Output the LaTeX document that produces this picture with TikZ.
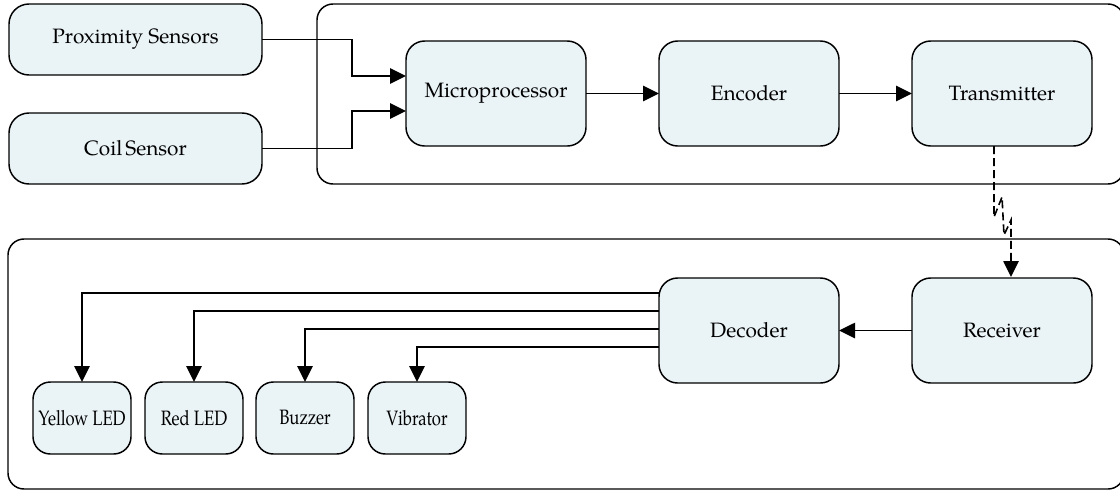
\documentclass[tikz,border=0pt]{standalone}
\usepackage{fontspec}
\usepackage{graphicx}
\setmainfont{TeX Gyre Pagella}
\usetikzlibrary{arrows.meta,calc}
\definecolor{boxfill}{HTML}{EAF3F6}
% condensed label for the narrow output boxes
\newcommand{\narrowtext}[1]{\scalebox{0.8}[1]{#1}}
\begin{document}
\begin{tikzpicture}[x=0.75pt,y=-0.75pt,
  every node/.style={font=\fontsize{15.6}{18}\selectfont},
  blk/.style={draw,line width=1.1pt,fill=boxfill,rounded corners=14pt,
    inner sep=0pt,outer sep=0pt},
  wide/.style={blk,minimum width=189.75pt,minimum height=53.25pt,rounded corners=15pt},
  mid/.style={blk,minimum width=135pt,minimum height=78.75pt},
  small/.style={blk,minimum width=73.5pt,minimum height=54pt,rounded corners=13pt},
  frame/.style={draw,line width=1.1pt,rounded corners=12pt},
  link/.style={line width=1.2pt,-{Triangle[length=12pt,width=11.5pt]}}]
\useasboundingbox (0,0) rectangle (1120,490);

% the two enclosing frames
\draw[frame] (317,4) rectangle (1124,184);
\draw[frame] (8,239) rectangle (1124,489);

% sensor side
\node[wide] (prox) at (135.5,39.5) {Proximity Sensors};
\node[wide] (coil) at (135.5,148.5) {Coil\kern-0.1em{} Sensor};
\node[mid] (micro) at (496,93.5) {Microprocessor};
\node[mid] (enc)   at (749,93.5) {Encoder};
\node[mid] (trans) at (1002,93.5) {Transmitter};

% receiving side
\node[mid] (dec) at (749,330.5) {Decoder};
\node[mid] (rec) at (1002,330.5) {Receiver};
\node[small] (yel) at (82,418)  {\narrowtext{Yellow LED}};
\node[small] (red) at (194,418) {\narrowtext{Red LED}};
\node[small] (buz) at (305,418) {\narrowtext{Buzzer}};
\node[small] (vib) at (417,418) {\narrowtext{Vibrator}};

% sensor inputs
\draw[link] (prox.east) -- (352,39.5) |- ($(micro.west)+(0,-17.5)$);
\draw[link] (coil.east) -- (352,148.5) |- ($(micro.west)+(0,17.5)$);
\draw[link] (micro) -- (enc);
\draw[link] (enc) -- (trans);

% wireless link
\coordinate (w0) at ($(trans.south)+(-8,0)$);
\coordinate (w1) at ($(rec.north)+(9,-1)$);
\draw[link,dashed,dash pattern=on 6pt off 3pt]
  (w0) -- (994,217) -- (1002,197) -- (1004,235) -- (1011,220) -- (w1);

% outputs
\draw[link] (rec) -- (dec);
\draw[link] (dec.west |- 0,293) -| (yel.north);
\draw[link] (dec.west |- 0,311) -| (red.north);
\draw[link] (dec.west |- 0,329) -| (buz.north);
\draw[link] (dec.west |- 0,347) -| (vib.north);
\end{tikzpicture}
\end{document}
